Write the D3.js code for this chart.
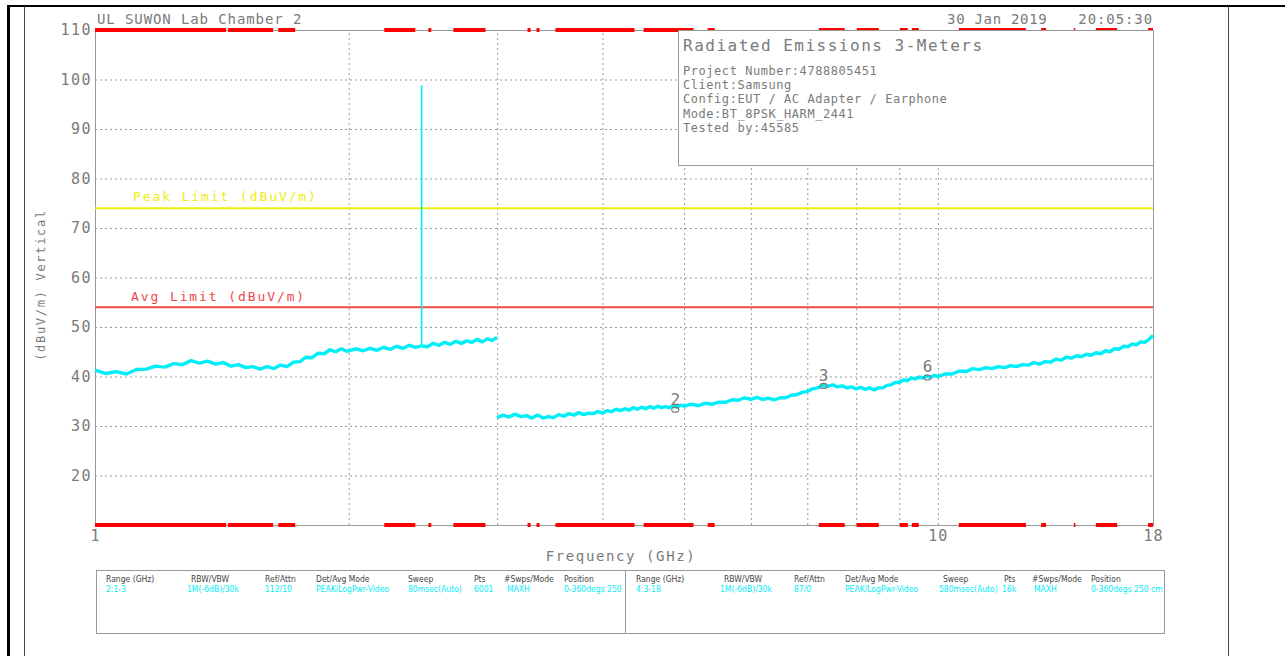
<!DOCTYPE html>
<html>
<head>
<meta charset="utf-8">
<script src="https://cdn.jsdelivr.net/npm/d3@7"></script>
<style>
  body { margin: 0; background: #fff; }
  text { font-family: "DejaVu Sans Mono", monospace; }
</style>
</head>
<body>
<div id="chart"></div>
<script>
var width = 1285;
var height = 656;

// trace, 1-3 GHz sweep (range 2)
var sweep1Freq = [1.00, 1.03, 1.06, 1.09, 1.12, 1.15, 1.18, 1.21, 1.24, 1.27, 1.30, 1.33, 1.36, 1.39, 1.42, 1.45, 1.48,
    1.51, 1.54, 1.57, 1.60, 1.63, 1.66, 1.69, 1.72, 1.75, 1.78, 1.81, 1.84, 1.87, 1.90, 1.93, 1.96, 1.99,
    2.04, 2.08, 2.12, 2.16, 2.20, 2.24, 2.28, 2.32, 2.36, 2.40, 2.44, 2.48, 2.52, 2.56, 2.60,
    2.64, 2.68, 2.72, 2.76, 2.80, 2.84, 2.88, 2.92, 2.96, 3.00];
var sweep1Level = [41.3, 40.6, 41.0, 40.5, 41.4, 41.5, 42.1, 41.9, 42.6, 42.4, 43.2, 42.7, 43.1, 42.5, 42.8, 42.1, 42.4,
    41.8, 42.0, 41.5, 42.0, 41.6, 42.3, 42.0, 42.9, 43.0, 43.9, 43.8, 44.7, 44.6, 45.4, 45.0, 45.6, 45.1,
    45.6, 45.2, 45.7, 45.3, 45.9, 45.5, 46.1, 45.7, 46.3, 45.9, 46.2, 46.0, 46.7, 46.3, 46.9,
    46.5, 47.1, 46.7, 47.2, 46.9, 47.5, 47.0, 47.6, 47.3, 47.9];

// 2441 MHz carrier spike
var spikeFreq = 2.441;
var spikeLevel = 98.8;
var spikeBase = 46.1;

// trace, 3-18 GHz sweep (range 4)
var sweep2Freq = [3.00, 3.05, 3.10, 3.15, 3.20, 3.25, 3.30, 3.35, 3.40, 3.45, 3.50, 3.55, 3.60, 3.65, 3.70, 3.75, 3.80,
    3.85, 3.90, 3.95, 4.00, 4.05, 4.10, 4.15, 4.20, 4.25, 4.30, 4.35, 4.40, 4.45, 4.50, 4.55, 4.60, 4.65,
    4.70, 4.75, 4.80, 4.85, 4.90, 4.95, 5.00, 5.1, 5.2, 5.3, 5.4, 5.5, 5.6, 5.7, 5.8, 5.9, 6.0, 6.1, 6.2,
    6.3, 6.4, 6.5, 6.6, 6.7, 6.8, 6.9, 7.0, 7.1, 7.2, 7.3, 7.4, 7.5, 7.6, 7.7, 7.8, 7.9, 8.0, 8.1, 8.2,
    8.3, 8.4, 8.5, 8.6, 8.7, 8.8, 8.9, 9.0, 9.1, 9.2, 9.3, 9.4, 9.5, 9.6, 9.7, 9.8, 9.9, 10.0, 10.2,
    10.4, 10.6, 10.8, 11.0, 11.2, 11.4, 11.6, 11.8, 12.0, 12.2, 12.4, 12.6, 12.8, 13.0, 13.2, 13.4, 13.6,
    13.8, 14.0, 14.2, 14.4, 14.6, 14.8, 15.0, 15.2, 15.4, 15.6, 15.8, 16.0, 16.2, 16.4, 16.6, 16.8, 17.0,
    17.2, 17.4, 17.6, 17.8, 18.0];
var sweep2Level = [31.7, 32.2, 31.8, 32.4, 31.9, 32.1, 31.6, 32.2, 31.6, 31.9, 31.7, 32.3, 32.0, 32.5, 32.2, 32.7, 32.3,
    32.6, 32.5, 32.9, 32.6, 33.1, 32.9, 33.4, 33.1, 33.5, 33.2, 33.7, 33.4, 33.8, 33.5, 33.9, 33.6, 34.0,
    33.7, 33.9, 33.7, 34.1, 33.8, 34.2, 34.0, 34.4, 34.1, 34.6, 34.4, 34.8, 34.8, 35.3, 35.2, 35.7, 35.4, 35.8, 35.4,
    35.6, 35.3, 35.7, 35.7, 36.2, 36.3, 36.8, 37.0, 37.5, 37.7, 38.2, 38.0, 38.3, 37.9, 38.1, 37.7, 37.9, 37.5, 37.8, 37.4,
    37.7, 37.3, 37.7, 37.7, 38.2, 38.3, 38.8, 38.8, 39.3, 39.2, 39.7, 39.5, 39.9, 39.7, 40.1, 39.8, 40.2, 40.0, 40.5,
    40.5, 41.1, 41.0, 41.6, 41.4, 41.8, 41.6, 42.0, 41.8, 42.2, 42.0, 42.4, 42.3, 42.8, 42.5, 43.0, 42.9,
    43.5, 43.3, 43.9, 43.7, 44.2, 44.0, 44.5, 44.3, 44.8, 44.6, 45.2, 45.0, 45.6, 45.5, 46.1, 46.0, 46.6,
    46.4, 47.0, 46.9, 47.5, 48.3];

// limit lines
var limitNames = ["Peak Limit (dBuV/m)", "Avg Limit (dBuV/m)"];
var limitLevels = [74, 54];

// markers
var markerIds = ["2", "3", "6"];
var markerFreqs = [4.88, 7.32, 9.72];
var markerLevels = [33.3, 38.1, 39.8];

// red bands along top and bottom edge (GHz ranges)
var bandStart = [1.0, 1.438, 1.65, 2.204, 2.486, 2.662, 3.26, 3.341, 3.518, 4.476, 5.332, 7.224, 8.012, 9.013, 9.313,
    10.59, 13.26, 14.50, 15.40, 17.76];
var bandEnd = [1.431, 1.627, 1.728, 2.399, 2.506, 2.906, 3.287, 3.368, 4.366, 5.131, 5.435, 7.753, 8.51, 9.212, 9.493,
    12.72, 13.44, 14.56, 16.32, 18.0];

var yTicks = [20, 30, 40, 50, 60, 70, 80, 90, 100, 110];
var yGrid = [20, 30, 40, 50, 60, 70, 80, 90, 100];
var xTicks = [1, 10, 18];
var xGrid = [2, 3, 4, 5, 6, 7, 8, 9, 10];

var infoTitle = "Radiated Emissions 3-Meters";
var infoLines = ["Project Number:4788805451", "Client:Samsung", "Config:EUT / AC Adapter / Earphone",
    "Mode:BT_8PSK_HARM_2441", "Tested by:45585"];

var tableHeads = ["Range (GHz)", "RBW/VBW", "Ref/Attn", "Det/Avg Mode", "Sweep", "Pts", "#Swps/Mode", "Position"];
var tableLeft = ["2:1-3", "1M(-6dB)/30k", "112/10", "PEAK/LogPwr-Video", "80msec(Auto)", "6001", "MAXH", "0-360degs 250"];
var tableRight = ["4:3-18", "1M(-6dB)/30k", "87/0", "PEAK/LogPwr-Video", "580msec(Auto)", "16k", "MAXH", "0-360degs 250 cm"];

var plotL = 95, plotR = 1153, plotT = 30, plotB = 525;
var gray = "#7a7a7a";
var cyan = "#00eef8";

var x = d3.scaleLog().domain([1, 18]).range([plotL, plotR]);
var y = d3.scaleLinear().domain([10, 110]).range([plotB, plotT]);

var svg = d3.select("#chart").append("svg")
    .attr("width", width)
    .attr("height", height);

// page frame
svg.append("line").attr("x1", 8.5).attr("x2", 8.5).attr("y1", 5).attr("y2", height)
    .attr("stroke", "#000").attr("stroke-width", 3);
svg.append("line").attr("x1", 7).attr("x2", width).attr("y1", 6).attr("y2", 6)
    .attr("stroke", "#000").attr("stroke-width", 2);
svg.append("line").attr("x1", 24.5).attr("x2", 24.5).attr("y1", 6).attr("y2", height)
    .attr("stroke", "#444").attr("stroke-width", 1);
svg.append("line").attr("x1", 1228.5).attr("x2", 1228.5).attr("y1", 6).attr("y2", height)
    .attr("stroke", "#444").attr("stroke-width", 1);

// grid
svg.append("g")
    .attr("transform", "translate(" + plotL + ",0)")
    .call(d3.axisLeft(y).tickValues(yGrid).tickSize(-(plotR - plotL)).tickFormat(""))
    .call(function(g) { g.select(".domain").remove(); })
    .selectAll("line").attr("stroke", "#999").attr("stroke-dasharray", "2,3");

svg.append("g")
    .attr("transform", "translate(0," + plotB + ")")
    .call(d3.axisBottom(x).tickValues(xGrid).tickSize(-(plotB - plotT)).tickFormat(""))
    .call(function(g) { g.select(".domain").remove(); })
    .selectAll("line").attr("stroke", "#999").attr("stroke-dasharray", "2,3");

// plot border
svg.append("rect")
    .attr("x", plotL + 0.5).attr("y", plotT + 0.5)
    .attr("width", plotR - plotL).attr("height", plotB - plotT)
    .attr("fill", "none").attr("stroke", "#999");

// tick labels
var yAx = svg.append("g")
    .attr("transform", "translate(" + (plotL - 1) + ",0)")
    .call(d3.axisLeft(y).tickValues(yTicks).tickSize(0).tickPadding(2));
yAx.select(".domain").remove();
yAx.selectAll("text").attr("fill", gray).style("font-size", "15px").style("letter-spacing", "1.5px")
    .style("font-family", "DejaVu Sans Mono");

var xAx = svg.append("g")
    .attr("transform", "translate(0," + plotB + ")")
    .call(d3.axisBottom(x).tickValues(xTicks).tickSize(0).tickPadding(5).tickFormat(d3.format("d")));
xAx.select(".domain").remove();
xAx.selectAll("text").attr("fill", gray).style("font-size", "15px").style("letter-spacing", "1px")
    .style("font-family", "DejaVu Sans Mono");

// axis titles
svg.append("text")
    .attr("x", 621).attr("y", 561)
    .attr("text-anchor", "middle")
    .attr("fill", gray)
    .style("font-size", "14px").style("letter-spacing", "1.6px")
    .text("Frequency (GHz)");

svg.append("text")
    .attr("transform", "translate(45,285) rotate(-90)")
    .attr("text-anchor", "middle")
    .attr("fill", gray)
    .style("font-size", "12px").style("letter-spacing", "1.7px")
    .text("(dBuV/m) Vertical");

// header
svg.append("text").attr("x", 97).attr("y", 24).attr("fill", gray)
    .style("font-size", "14px").style("letter-spacing", "0.9px")
    .text("UL SUWON Lab Chamber 2");
svg.append("text").attr("x", 947).attr("y", 24).attr("fill", gray)
    .style("font-size", "14px").style("letter-spacing", "0.7px")
    .text("30 Jan 2019");
svg.append("text").attr("x", 1153).attr("y", 24).attr("fill", gray).attr("text-anchor", "end")
    .style("font-size", "14px").style("letter-spacing", "0.9px")
    .text("20:05:30");

// limit lines
var limitColors = ["#eeee10", "#f04848"];
var limitLabelY = [-7, -6];
limitLevels.forEach(function(v, i) {
    svg.append("line")
        .attr("x1", plotL).attr("x2", plotR)
        .attr("y1", y(v)).attr("y2", y(v))
        .attr("stroke", limitColors[i]).attr("stroke-width", 2);
    svg.append("text")
        .attr("x", i == 0 ? 133 : 131).attr("y", y(v) + limitLabelY[i])
        .attr("fill", limitColors[i])
        .style("font-size", "13px").style("letter-spacing", "1.9px")
        .text(limitNames[i]);
});

// traces
var line = d3.line()
    .x(function(d) { return x(d[0]); })
    .y(function(d) { return y(d[1]); });

[[sweep1Freq, sweep1Level], [sweep2Freq, sweep2Level]].forEach(function(s) {
    var pts = s[0].map(function(f, i) { return [f, s[1][i]]; });
    svg.append("path")
        .datum(pts)
        .attr("d", line)
        .attr("fill", "none")
        .attr("stroke", cyan)
        .attr("stroke-width", 3.4)
        .attr("stroke-linejoin", "round");
});

svg.append("line")
    .attr("x1", x(spikeFreq)).attr("x2", x(spikeFreq))
    .attr("y1", y(spikeBase)).attr("y2", y(spikeLevel))
    .attr("stroke", cyan).attr("stroke-width", 1.6);

// red bands
bandStart.forEach(function(f, i) {
    [plotT, plotB].forEach(function(yy) {
        svg.append("rect")
            .attr("x", x(f)).attr("y", yy - 2)
            .attr("width", Math.max(1, x(bandEnd[i]) - x(f))).attr("height", 4)
            .attr("fill", "#ff0000");
    });
});

// markers
markerIds.forEach(function(id, i) {
    var mx = x(markerFreqs[i]), my = y(markerLevels[i]);
    svg.append("ellipse")
        .attr("cx", mx).attr("cy", my)
        .attr("rx", 3.5).attr("ry", 2.5)
        .attr("fill", "none").attr("stroke", gray).attr("stroke-width", 1.2);
    svg.append("text")
        .attr("x", mx).attr("y", my - 5)
        .attr("text-anchor", "middle")
        .attr("fill", gray)
        .style("font-size", "16px")
        .text(id);
});

// info box
svg.append("rect")
    .attr("x", 678.5).attr("y", plotT + 0.5)
    .attr("width", plotR - 678).attr("height", 135)
    .attr("fill", "#fff").attr("stroke", "#999");
svg.append("text").attr("x", 683).attr("y", 51).attr("fill", gray)
    .style("font-size", "16px").style("letter-spacing", "1.5px")
    .text(infoTitle);
svg.selectAll(".info").data(infoLines).enter().append("text")
    .attr("x", 683)
    .attr("y", function(d, i) { return 75 + i * 14.2; })
    .attr("fill", gray)
    .style("font-size", "12px").style("letter-spacing", "0.55px")
    .text(function(d) { return d; });

// settings table
svg.append("rect").attr("x", 96.5).attr("y", 570.5).attr("width", 1068).attr("height", 63)
    .attr("fill", "none").attr("stroke", "#999");
svg.append("line").attr("x1", 625.5).attr("x2", 625.5).attr("y1", 570).attr("y2", 634)
    .attr("stroke", "#999");

var colLeft = [106, 191, 265, 316, 408, 474, 504, 564];
var valLeft = [106, 187, 265, 316, 408, 474, 507, 564];
var colRight = [636, 724, 794, 845, 943, 1004, 1032, 1091];
var valRight = [636, 720, 794, 845, 939, 1002, 1034, 1091];

var clip = svg.append("defs");
clip.append("clipPath").attr("id", "clipL").append("rect").attr("x", 97).attr("y", 570).attr("width", 527).attr("height", 63);
clip.append("clipPath").attr("id", "clipR").append("rect").attr("x", 626).attr("y", 570).attr("width", 538).attr("height", 63);

function tableHalf(cols, vals, values, clipId) {
    var g = svg.append("g").attr("clip-path", "url(#" + clipId + ")")
        .style("font-size", "8.5px");
    tableHeads.forEach(function(h, i) {
        g.append("text").attr("x", cols[i]).attr("y", 582).attr("fill", "#444")
            .style("font-family", "DejaVu Sans Condensed").text(h);
        g.append("text").attr("x", vals[i]).attr("y", 592).attr("fill", cyan)
            .style("font-family", "DejaVu Sans Condensed").text(values[i]);
    });
}
tableHalf(colLeft, valLeft, tableLeft, "clipL");
tableHalf(colRight, valRight, tableRight, "clipR");
</script>
</body>
</html>
